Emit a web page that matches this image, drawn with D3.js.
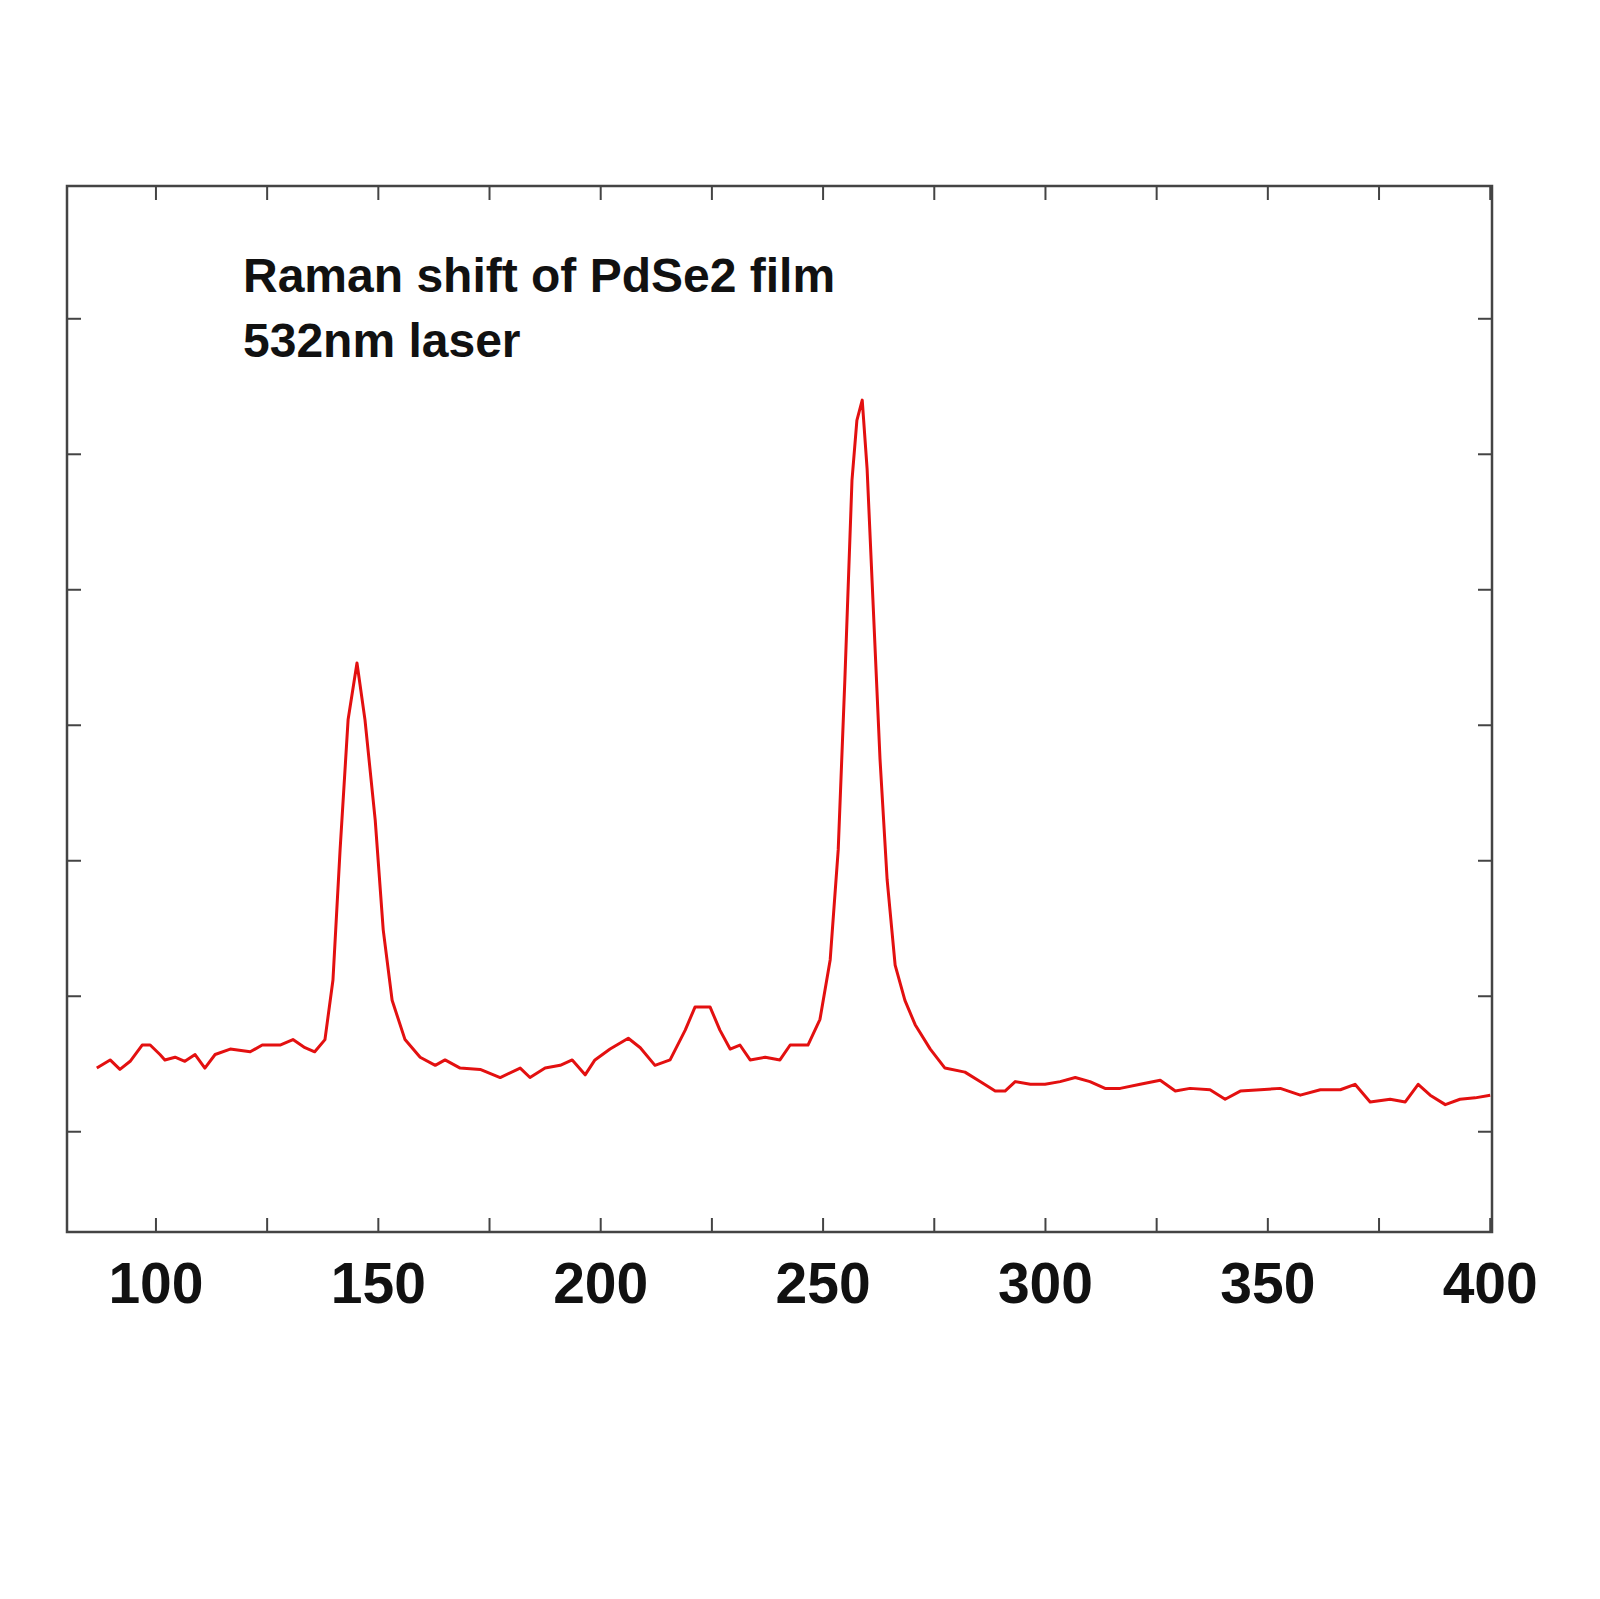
<!DOCTYPE html>
<html><head><meta charset="utf-8">
<script src="https://cdn.jsdelivr.net/npm/d3@7"></script>
<style>html,body{margin:0;padding:0;background:#fff;overflow:hidden}svg{display:block}</style>
</head><body>
<svg id="chart" width="1600" height="1599"></svg>
<script>
// Raman shift (cm-1) and intensity (arbitrary units)
var shift = [86.7,89.7,91.9,94.2,96.9,98.7,100.9,102.0,104.3,106.5,108.8,111.0,113.3,116.7,121.2,123.9,127.9,130.8,133.5,135.7,138.0,139.8,141.4,143.2,145.2,147.0,149.3,151.1,153.1,156.0,159.4,162.8,165.0,168.4,172.9,177.4,181.9,184.1,187.5,190.9,193.6,196.5,198.7,202.1,206.2,208.9,212.2,215.6,219.0,221.2,224.6,226.8,229.1,231.3,233.6,237.0,240.3,242.6,246.6,249.3,251.6,253.4,254.9,256.5,257.6,258.8,259.9,261.2,262.8,264.4,266.2,268.4,270.7,274.1,277.4,281.9,285.3,288.7,290.9,293.2,296.6,299.9,303.3,306.7,310.0,313.4,316.8,321.3,325.8,329.2,332.5,337.0,340.4,343.8,348.3,352.8,357.3,361.8,366.3,369.6,373.0,377.5,380.9,383.8,386.5,389.9,393.2,396.6,400.0];
var intensity = [0.47,0.53,0.46,0.52,0.64,0.64,0.57,0.53,0.55,0.52,0.57,0.47,0.57,0.61,0.59,0.64,0.64,0.68,0.62,0.59,0.68,1.12,2.08,3.04,3.46,3.04,2.30,1.49,0.97,0.68,0.55,0.49,0.53,0.47,0.46,0.40,0.47,0.40,0.47,0.49,0.53,0.42,0.53,0.61,0.69,0.62,0.49,0.53,0.75,0.92,0.92,0.75,0.61,0.64,0.53,0.55,0.53,0.64,0.64,0.83,1.27,2.08,3.34,4.81,5.25,5.40,4.89,3.93,2.75,1.86,1.23,0.97,0.79,0.61,0.47,0.44,0.37,0.30,0.30,0.37,0.35,0.35,0.37,0.40,0.37,0.32,0.32,0.35,0.38,0.30,0.32,0.31,0.24,0.30,0.31,0.32,0.27,0.31,0.31,0.35,0.22,0.24,0.22,0.35,0.27,0.20,0.24,0.25,0.27];
var xLabels = [100,150,200,250,300,350,400];
var xMinor = d3.range(100, 401, 25);
var yTicks = [0,1,2,3,4,5,6];
var titleLines = ["Raman shift of PdSe2 film", "532nm laser"];

var svg = d3.select("#chart");
var L = 67, R = 1492, T = 186, B = 1232;
var x = d3.scaleLinear().domain([80, 400.4]).range([L, R]);
var y = d3.scaleLinear().domain([-0.74, 6.98]).range([B, T]);

var tk = 14;
var g = svg.append("g").attr("stroke", "#444").attr("stroke-width", 2);
// ticks (inward) on all sides
xMinor.forEach(function(v){
  g.append("line").attr("x1", x(v)).attr("x2", x(v)).attr("y1", B).attr("y2", B - tk);
  g.append("line").attr("x1", x(v)).attr("x2", x(v)).attr("y1", T).attr("y2", T + tk);
});
yTicks.forEach(function(v){
  g.append("line").attr("y1", y(v)).attr("y2", y(v)).attr("x1", L).attr("x2", L + tk);
  g.append("line").attr("y1", y(v)).attr("y2", y(v)).attr("x1", R).attr("x2", R - tk);
});
svg.append("rect").attr("x", L).attr("y", T).attr("width", R - L).attr("height", B - T)
  .attr("fill", "none").attr("stroke", "#444").attr("stroke-width", 2.5);

svg.selectAll(".xl").data(xLabels).enter().append("text")
  .attr("x", function(d){ return x(d); }).attr("y", 1303)
  .attr("text-anchor", "middle").attr("font-family", "Liberation Sans, Arial, sans-serif")
  .attr("font-weight", "bold").attr("font-size", 57).attr("fill", "#111")
  .text(function(d){ return d; });

var line = d3.line().x(function(d, i){ return x(shift[i]); }).y(function(d){ return y(d); });
svg.append("path").datum(intensity).attr("d", line)
  .attr("fill", "none").attr("stroke", "#e31010").attr("stroke-width", 3).attr("stroke-linejoin", "round");

titleLines.forEach(function(t, i){
  svg.append("text").attr("x", 243).attr("y", 292 + i * 65)
    .attr("font-family", "Liberation Sans, Arial, sans-serif").attr("font-weight", "bold")
    .attr("font-size", 48).attr("fill", "#111").text(t);
});
</script>
</body></html>
